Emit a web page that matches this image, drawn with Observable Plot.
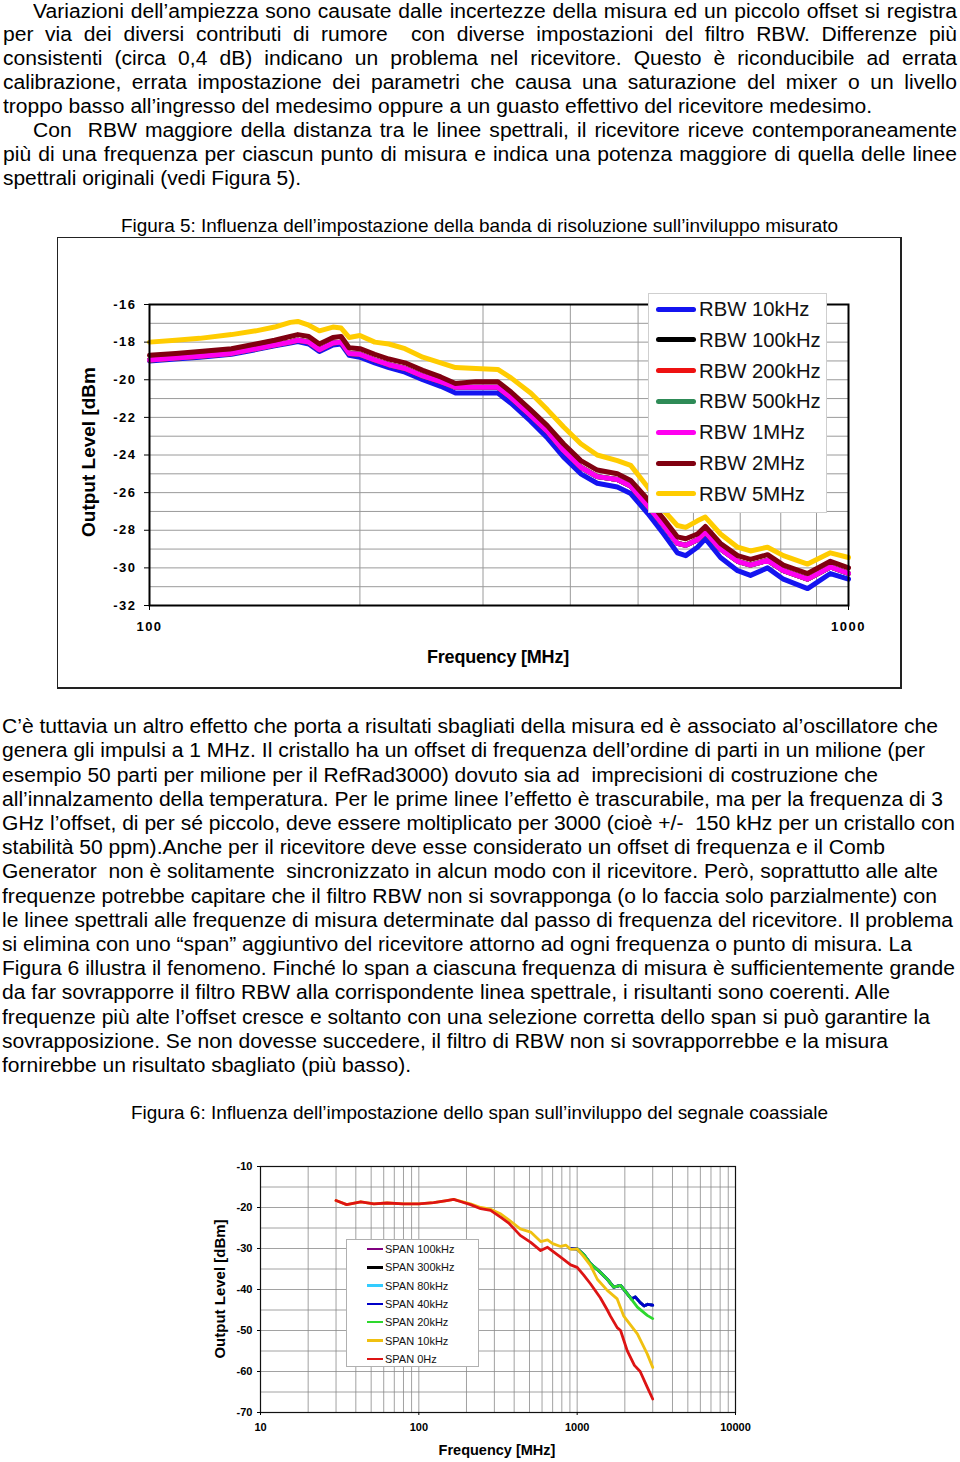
<!DOCTYPE html>
<html><head><meta charset="utf-8">
<script src="https://cdn.jsdelivr.net/npm/d3@7"></script>
<script src="https://cdn.jsdelivr.net/npm/@observablehq/plot@0.6"></script>
<style>
html,body{margin:0;padding:0;background:#fff;}
#page{position:relative;width:960px;height:1462px;overflow:hidden;font-family:"Liberation Sans",Arial,Helvetica,sans-serif;color:#000;background:#fff;}
.ln{position:absolute;white-space:pre;transform-origin:0 50%;line-height:1;}
.abs{position:absolute;}
</style></head><body><div id="page"></div>
<script>
// ---------------- Figure 5 data ----------------
const freq5 = [100,109,118,131,142,151,159,163,169,175,183,188,193,200,210,220,232,246,261,274,293,315,329,351,371,391,414,437,467,488,516,544,569,585,608,624,656,694,724,766,807,874,942,1000];
const rbw10k = [-19.0,-18.9,-18.8,-18.65,-18.4,-18.2,-18.05,-17.97,-18.1,-18.5,-18.15,-18.1,-18.7,-18.8,-19.1,-19.35,-19.6,-20.0,-20.35,-20.7,-20.7,-20.7,-21.25,-22.2,-23.1,-24.1,-25.0,-25.5,-25.7,-26.05,-27.1,-28.2,-29.2,-29.35,-28.9,-28.45,-29.45,-30.15,-30.4,-30.0,-30.6,-31.1,-30.3,-30.6];
const rbw100k = [-18.95,-18.85,-18.75,-18.6,-18.35,-18.15,-18.0,-17.9,-18.0,-18.4,-18.05,-18.0,-18.6,-18.65,-18.95,-19.2,-19.4,-19.8,-20.1,-20.4,-20.4,-20.4,-20.95,-21.9,-22.75,-23.75,-24.65,-25.15,-25.3,-25.65,-26.7,-27.75,-28.7,-28.8,-28.5,-28.1,-29.0,-29.65,-29.85,-29.6,-30.15,-30.6,-29.95,-30.3];
const rbw200k = [-18.95,-18.85,-18.75,-18.6,-18.35,-18.15,-18.0,-17.9,-18.0,-18.4,-18.05,-18.0,-18.6,-18.65,-18.95,-19.2,-19.4,-19.8,-20.1,-20.4,-20.4,-20.4,-20.95,-21.9,-22.75,-23.75,-24.65,-25.15,-25.3,-25.65,-26.7,-27.75,-28.7,-28.8,-28.5,-28.1,-29.0,-29.65,-29.85,-29.6,-30.15,-30.6,-29.95,-30.3];
const rbw500k = [-18.95,-18.85,-18.75,-18.6,-18.35,-18.15,-18.0,-17.9,-18.0,-18.4,-18.05,-18.0,-18.6,-18.65,-18.95,-19.2,-19.4,-19.8,-20.1,-20.4,-20.4,-20.4,-20.95,-21.9,-22.75,-23.75,-24.65,-25.15,-25.3,-25.65,-26.7,-27.75,-28.7,-28.8,-28.5,-28.1,-29.0,-29.65,-29.85,-29.6,-30.15,-30.6,-29.95,-30.3];
const rbw1M = [-18.95,-18.85,-18.75,-18.6,-18.35,-18.15,-18.0,-17.9,-18.0,-18.4,-18.05,-18.0,-18.6,-18.65,-18.95,-19.2,-19.4,-19.8,-20.1,-20.4,-20.4,-20.4,-20.95,-21.9,-22.75,-23.75,-24.65,-25.15,-25.3,-25.65,-26.7,-27.75,-28.7,-28.8,-28.5,-28.1,-29.0,-29.65,-29.85,-29.6,-30.15,-30.6,-29.95,-30.3];
const rbw2M = [-18.7,-18.6,-18.5,-18.35,-18.1,-17.9,-17.7,-17.6,-17.7,-18.1,-17.75,-17.7,-18.3,-18.35,-18.65,-18.9,-19.1,-19.5,-19.85,-20.2,-20.1,-20.1,-20.65,-21.6,-22.45,-23.4,-24.3,-24.8,-25.0,-25.35,-26.35,-27.4,-28.35,-28.45,-28.2,-27.8,-28.7,-29.35,-29.55,-29.3,-29.85,-30.3,-29.65,-30.0];
const rbw5M = [-18.0,-17.9,-17.8,-17.6,-17.4,-17.2,-16.95,-16.9,-17.1,-17.4,-17.2,-17.25,-17.75,-17.65,-18.0,-18.1,-18.35,-18.8,-19.1,-19.35,-19.4,-19.45,-19.9,-20.7,-21.6,-22.5,-23.4,-24.0,-24.3,-24.55,-25.7,-26.95,-27.75,-27.85,-27.5,-27.3,-28.2,-28.9,-29.1,-28.9,-29.35,-29.8,-29.2,-29.45];
const rbwNames = ["RBW 10kHz","RBW 100kHz","RBW 200kHz","RBW 500kHz","RBW 1MHz","RBW 2MHz","RBW 5MHz"];
const rbwSeries = [rbw10k, rbw100k, rbw200k, rbw500k, rbw1M, rbw2M, rbw5M];
const fig5YTicks = [-32,-30,-28,-26,-24,-22,-20,-18,-16];
const fig5YGrid = [-31,-30,-29,-28,-27,-26,-25,-24,-23,-22,-21,-20,-19,-18,-17];
const fig5XTicks = [100,1000];
const fig5XGrid = [200,300,400,500,600,700,800,900];

// ---------------- Figure 6 data ----------------
const span0Freq = [30,35,43,52,63,80,100,124,150,166,185,212,246,284,330,370,437,509,588,650,786,910,1000,1100,1213,1400,1550,1623,1790,1880,2070,2300,2500,2770,3000];
const span0 = [-18.3,-19.3,-18.6,-19.1,-18.9,-19.1,-19.1,-18.8,-18.3,-18.0,-18.6,-19.3,-20.3,-20.7,-22.4,-23.8,-26.8,-28.5,-30.5,-29.7,-32.1,-34.0,-34.6,-36.5,-38.6,-42.0,-45.0,-46.5,-49.3,-50.0,-54.9,-58.5,-60.0,-63.8,-66.7];
const span10kFreq = [30,35,43,52,63,80,100,124,150,166,185,212,246,284,330,370,437,509,588,650,700,786,850,910,1000,1100,1213,1340,1550,1790,1970,2070,2400,2770,3000];
const span10k = [-18.3,-19.3,-18.6,-19.1,-18.9,-19.1,-19.1,-18.8,-18.3,-18.0,-18.5,-19.1,-20.0,-20.4,-21.6,-23.0,-25.2,-26.0,-28.3,-27.9,-28.8,-29.5,-29.2,-30.2,-30.1,-32.0,-34.1,-37.5,-40.2,-42.3,-46.5,-47.6,-50.8,-55.7,-59.0];
const span20kFreq = [1000,1100,1213,1400,1550,1700,1880,2070,2400,2770,3000];
const span20k = [-30.1,-31.5,-33.7,-35.8,-37.5,-39.4,-39.0,-41.0,-44.3,-46.3,-47.1];
const spanWideFreq = [900,1000,1100,1213,1400,1550,1700,1880,2070,2200,2330,2500,2650,2800,3000];
const span40k = [-30.0,-30.1,-31.5,-33.7,-35.8,-37.5,-39.4,-39.0,-41.0,-42.3,-41.8,-43.2,-44.0,-43.6,-43.8];
const span80k = [-30.0,-30.1,-31.5,-33.7,-35.8,-37.5,-39.4,-39.0,-41.0,-42.3,-41.8,-43.2,-44.0,-43.6,-43.8];
const span100k = [-30.0,-30.1,-31.5,-33.7,-35.8,-37.5,-39.4,-39.0,-41.0,-42.3,-41.8,-43.2,-44.0,-43.6,-43.8];
const span300k = [-30.0,-30.1,-31.5,-33.7,-35.8,-37.5,-39.4,-39.0,-41.0,-42.3,-41.8,-43.2,-44.0,-43.6,-43.8];
const spanNames = ["SPAN 100kHz","SPAN 300kHz","SPAN 80kHz","SPAN 40kHz","SPAN 20kHz","SPAN 10kHz","SPAN 0Hz"];
const spanSeries = [[spanWideFreq, span100k],[spanWideFreq, span300k],[spanWideFreq, span80k],[spanWideFreq, span40k],[span20kFreq, span20k],[span10kFreq, span10k],[span0Freq, span0]];
const fig6YTicks = [-70,-60,-50,-40,-30,-20,-10];
const fig6YGrid = [-65,-60,-55,-50,-45,-40,-35,-30,-25,-20,-15];
const fig6XTicks = [10,100,1000,10000];
const fig6XGrid = [20,30,40,50,60,70,80,90,100,200,300,400,500,600,700,800,900,1000,2000,3000,4000,5000,6000,7000,8000,9000];

// ---------------- Text ----------------
const para1 = [
 "Variazioni dell’ampiezza sono causate dalle incertezze della misura ed un piccolo offset si registra",
 "per via dei diversi contributi di rumore  con diverse impostazioni del filtro RBW. Differenze più",
 "consistenti (circa 0,4 dB) indicano un problema nel ricevitore. Questo è riconducibile ad errata",
 "calibrazione, errata impostazione dei parametri che causa una saturazione del mixer o un livello",
 "troppo basso all’ingresso del medesimo oppure a un guasto effettivo del ricevitore medesimo.",
 "Con  RBW maggiore della distanza tra le linee spettrali, il ricevitore riceve contemporaneamente",
 "più di una frequenza per ciascun punto di misura e indica una potenza maggiore di quella delle linee",
 "spettrali originali (vedi Figura 5)."
];
const para2 = [
 "C’è tuttavia un altro effetto che porta a risultati sbagliati della misura ed è associato al’oscillatore che",
 "genera gli impulsi a 1 MHz. Il cristallo ha un offset di frequenza dell’ordine di parti in un milione (per",
 "esempio 50 parti per milione per il RefRad3000) dovuto sia ad  imprecisioni di costruzione che",
 "all’innalzamento della temperatura. Per le prime linee l’effetto è trascurabile, ma per la frequenza di 3",
 "GHz l’offset, di per sé piccolo, deve essere moltiplicato per 3000 (cioè +/-  150 kHz per un cristallo con",
 "stabilità 50 ppm).Anche per il ricevitore deve esse considerato un offset di frequenza e il Comb",
 "Generator  non è solitamente  sincronizzato in alcun modo con il ricevitore. Però, soprattutto alle alte",
 "frequenze potrebbe capitare che il filtro RBW non si sovrapponga (o lo faccia solo parzialmente) con",
 "le linee spettrali alle frequenze di misura determinate dal passo di frequenza del ricevitore. Il problema",
 "si elimina con uno “span” aggiuntivo del ricevitore attorno ad ogni frequenza o punto di misura. La",
 "Figura 6 illustra il fenomeno. Finché lo span a ciascuna frequenza di misura è sufficientemente grande",
 "da far sovrapporre il filtro RBW alla corrispondente linea spettrale, i risultanti sono coerenti. Alle",
 "frequenze più alte l’offset cresce e soltanto con una selezione corretta dello span si può garantire la",
 "sovrapposizione. Se non dovesse succedere, il filtro di RBW non si sovrapporrebbe e la misura",
 "fornirebbe un risultato sbagliato (più basso)."
];
const caption5 = "Figura 5: Influenza dell’impostazione della banda di risoluzione sull’inviluppo misurato";
const caption6 = "Figura 6: Influenza dell’impostazione dello span sull’inviluppo del segnale coassiale";

// ---------------- Layout ----------------
const page = document.getElementById("page");
const TXT = 19.5;
const para1Layout = [[33,957,11.5,1],[3,957,34.5,1],[3,957,58.5,1],[3,957,82.5,1],[3,872,106.5,0],[33,957,131,1],[3,957,155,1],[3,301,179,0]];
const para2Ends = [938,925,878,943,955,885,938,937,953,912,955,890,930,888,411];
const para2Top = 727, para2Step = 24.2;

function placeLine(text, x0, x1, yc, justify, size) {
  const el = document.createElement("div");
  el.className = "ln";
  el.textContent = text;
  el.style.fontSize = size + "px";
  el.style.left = x0 + "px";
  el.style.top = (yc - size * 0.5) + "px";
  page.appendChild(el);
  return {el, nat: el.getBoundingClientRect().width, x0, x1, justify, text};
}
const items = [];
para1.forEach((t, i) => { const L = para1Layout[i]; items.push(placeLine(t, L[0], L[1], L[2], !!L[3], TXT)); });
para2.forEach((t, i) => items.push(placeLine(t, 2, para2Ends[i], para2Top + i * para2Step, false, TXT)));
const ks = items.filter(d => !d.justify && d.x1 - d.x0 > 600).map(d => (d.x1 - d.x0) / d.nat);
const cond = d3.mean(ks);
for (const d of items) {
  if (!d.justify) { d.el.style.transform = `scaleX(${(d.x1 - d.x0) / d.nat})`; continue; }
  const spaces = (d.text.match(/ /g) || []).length;
  const extra = ((d.x1 - d.x0) / cond - d.nat) / spaces;
  if (extra >= 0) { d.el.style.wordSpacing = extra + "px"; d.el.style.transform = `scaleX(${cond})`; }
  else d.el.style.transform = `scaleX(${(d.x1 - d.x0) / d.nat})`;
}
[[caption5,121,838,226],[caption6,131,828,1113]].forEach(([t,a,b,y]) => {
  const d = placeLine(t, a, b, y, false, 18.5);
  d.el.style.transform = `scaleX(${(b - a) / d.nat})`;
});

function box(x, y, w, h, css) {
  const el = document.createElement("div");
  el.className = "abs";
  Object.assign(el.style, {left: x + "px", top: y + "px", width: w + "px", height: h + "px"}, css || {});
  page.appendChild(el);
  return el;
}

// ---------------- Figure 5 ----------------
const fig5Colors = ["#1414f0","#000000","#ee1111","#2e8b57","#ff00f0","#800010","#ffcc00"];
const marks5 = [
  Plot.ruleY(fig5YGrid, {stroke: "#9a9a9a", strokeWidth: 1}),
  Plot.ruleX(fig5XGrid, {stroke: "#9a9a9a", strokeWidth: 1})
];
rbwSeries.forEach((vals, k) => {
  marks5.push(Plot.line(freq5.map((f, i) => ({f, v: vals[i]})), {x: "f", y: "v", stroke: fig5Colors[k], strokeWidth: 5, strokeLinejoin: "round", strokeLinecap: "round"}));
});
marks5.push(Plot.frame({stroke: "#000", strokeWidth: 2}));
marks5.push(Plot.axisY({ticks: fig5YTicks, tickSize: 5, tickPadding: 8, tickFormat: d => String(d), label: null}));
marks5.push(Plot.axisX({ticks: fig5XTicks, tickSize: 5, tickPadding: 11, tickFormat: d => String(d), label: null}));
const fig5 = Plot.plot({
  width: 845, height: 452,
  marginLeft: 92, marginRight: 54, marginTop: 67, marginBottom: 84,
  x: {type: "log", domain: [100, 1000]},
  y: {domain: [-32, -16]},
  style: {fontFamily: "'Liberation Sans', Arial, sans-serif", fontSize: "13px", fontWeight: "bold", letterSpacing: "1.5px", color: "#000", background: "transparent", overflow: "visible"},
  marks: marks5
});
const w5 = box(57, 237, 845, 452);
w5.appendChild(fig5);
box(57, 237, 845, 452, {border: "1px solid #222", borderRightWidth: "2px", borderBottomWidth: "2px", boxSizing: "border-box", pointerEvents: "none"});

// y title
const yt5 = box(-1, 440, 180, 24, {textAlign: "center", fontSize: "19px", fontWeight: "bold", lineHeight: "24px", whiteSpace: "nowrap", transform: "rotate(-90deg)"});
yt5.textContent = "Output Level [dBm";
const xt5 = box(348, 645, 300, 24, {textAlign: "center", fontSize: "18px", fontWeight: "bold", lineHeight: "24px", letterSpacing: "-0.2px"});
xt5.textContent = "Frequency [MHz]";

// legend 5
const leg5 = box(648, 293, 179, 220, {background: "#fff", border: "1px solid #cfcfcf", boxSizing: "border-box"});
rbwNames.forEach((n, i) => {
  const yc = 15 + i * 30.8;
  const sw = document.createElement("div");
  Object.assign(sw.style, {position: "absolute", left: "7px", top: (yc - 2.5) + "px", width: "40px", height: "5px", borderRadius: "3px", background: fig5Colors[i]});
  leg5.appendChild(sw);
  const tx = document.createElement("div");
  Object.assign(tx.style, {position: "absolute", left: "50px", top: (yc - 12) + "px", fontSize: "20.3px", lineHeight: "24px", whiteSpace: "nowrap", color: "#111"});
  tx.textContent = n;
  leg5.appendChild(tx);
});

// ---------------- Figure 6 ----------------
const fig6Colors = ["#800080","#000000","#33ccff","#0000c8","#2ed82e","#f0c010","#dd1414"];
const marks6 = [
  Plot.ruleY(fig6YGrid, {stroke: "#8a8a8a", strokeWidth: 0.8}),
  Plot.ruleX(fig6XGrid, {stroke: "#8a8a8a", strokeWidth: 0.8})
];
spanSeries.forEach(([fs, vals], k) => {
  marks6.push(Plot.line(fs.map((f, i) => ({f, v: vals[i]})), {x: "f", y: "v", stroke: fig6Colors[k], strokeWidth: 2.8, strokeLinejoin: "round", strokeLinecap: "round"}));
});
marks6.push(Plot.frame({stroke: "#111", strokeWidth: 1.2}));
marks6.push(Plot.axisY({ticks: fig6YTicks, tickSize: 3, tickPadding: 5, tickFormat: d => String(d), label: null}));
marks6.push(Plot.axisX({ticks: fig6XTicks, tickSize: 3, tickPadding: 8, tickFormat: d => String(d), label: null}));
const fig6 = Plot.plot({
  width: 960, height: 312,
  marginLeft: 260, marginRight: 225, marginTop: 16, marginBottom: 50,
  x: {type: "log", domain: [10, 10000]},
  y: {domain: [-70, -10]},
  style: {fontFamily: "'Liberation Sans', Arial, sans-serif", fontSize: "11px", fontWeight: "bold", color: "#000", background: "transparent", overflow: "visible"},
  marks: marks6
});
const w6 = box(0, 1150, 960, 312);
w6.appendChild(fig6);
const xt6 = box(397, 1440, 200, 20, {textAlign: "center", fontSize: "14.5px", fontWeight: "bold", lineHeight: "20px"});
xt6.textContent = "Frequency [MHz]";
const yt6 = box(150, 1279, 140, 20, {textAlign: "center", fontSize: "15px", fontWeight: "bold", lineHeight: "20px", whiteSpace: "nowrap", transform: "rotate(-90deg)"});
yt6.textContent = "Output Level [dBm]";

const leg6 = box(346, 1239, 133, 128, {background: "#fff", border: "1px solid #b0b0b0", boxSizing: "border-box"});
spanNames.forEach((n, i) => {
  const yc = 9 + i * 18.3;
  const sw = document.createElement("div");
  Object.assign(sw.style, {position: "absolute", left: "20px", top: (yc - 1.25) + "px", width: "16px", height: "2.5px", background: fig6Colors[i]});
  leg6.appendChild(sw);
  const tx = document.createElement("div");
  Object.assign(tx.style, {position: "absolute", left: "38px", top: (yc - 7) + "px", fontSize: "11px", lineHeight: "14px", whiteSpace: "nowrap", color: "#111"});
  tx.textContent = n;
  leg6.appendChild(tx);
});
</script></body></html>
